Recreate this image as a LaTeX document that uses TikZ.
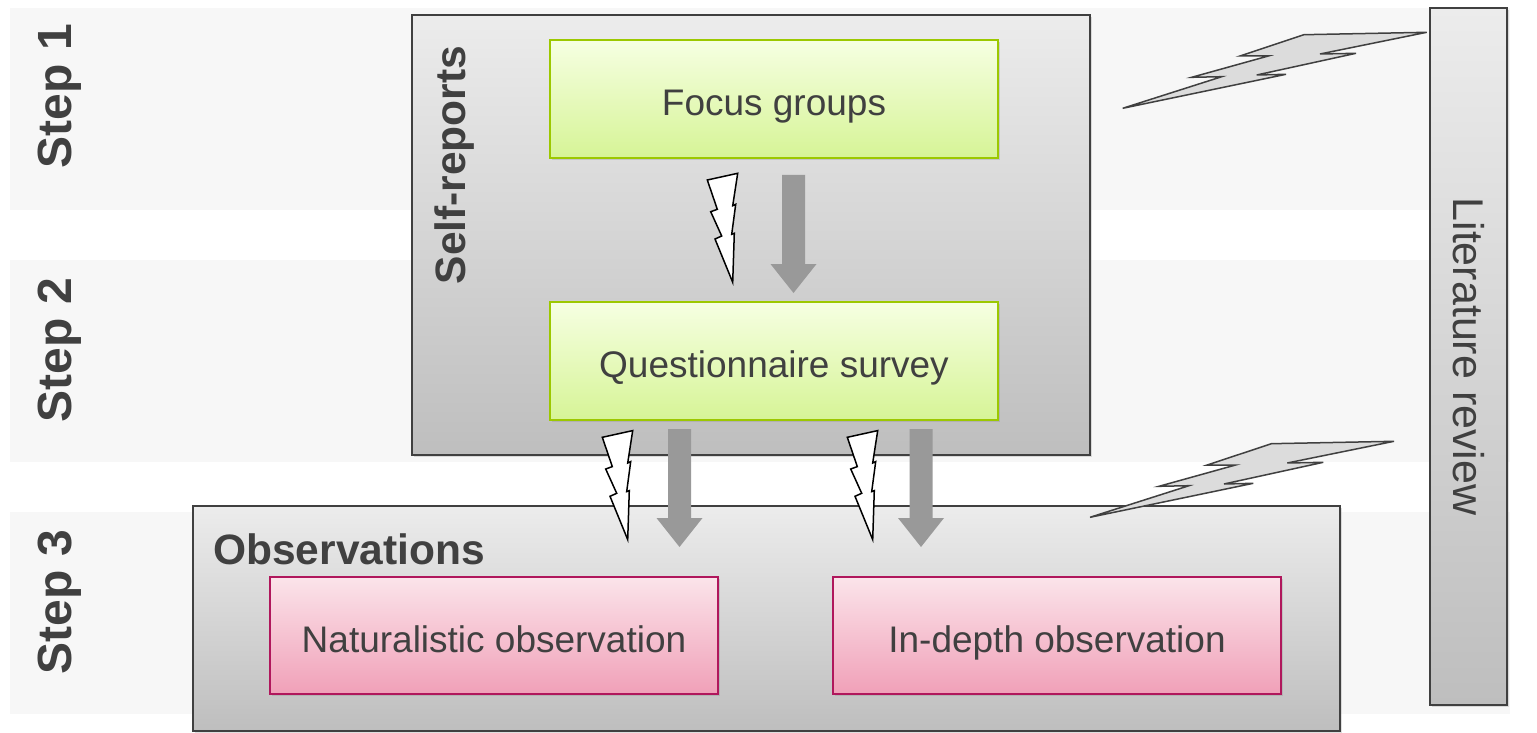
\documentclass[tikz,border=0pt]{standalone}
\usepackage{fontspec}
\setmainfont{Liberation Sans}
\usetikzlibrary{shadows,calc}
\definecolor{txt}{HTML}{404040}
\definecolor{band}{HTML}{F7F7F7}
\definecolor{edge}{HTML}{404040}
\definecolor{graytop}{HTML}{ECECEC}
\definecolor{graybot}{HTML}{BEBEBE}
\definecolor{greentop}{HTML}{F6FFE2}
\definecolor{greenbot}{HTML}{D6F496}
\definecolor{greenedge}{HTML}{9CC800}
\definecolor{pinktop}{HTML}{FBE4EA}
\definecolor{pinkbot}{HTML}{F0A0B8}
\definecolor{pinkedge}{HTML}{B0175C}
\definecolor{arrowgray}{HTML}{999999}
\definecolor{boltgray}{HTML}{DCDCDC}
\tikzset{
  bandbox/.style={fill=band, draw=none},
  graybox/.style={draw=edge, line width=1.6pt, top color=graytop, bottom color=graybot,
    drop shadow={shadow xshift=2pt, shadow yshift=-2pt, opacity=0.25}, inner sep=0pt},
  innertext/.style={text=txt, font=\fontsize{37}{42}\selectfont, text height=33pt, text depth=0pt},
  greenbox/.style={draw=greenedge, line width=1.6pt, top color=greentop, bottom color=greenbot,
    drop shadow={shadow xshift=2pt, shadow yshift=-2pt, opacity=0.25},
    minimum width=448pt, minimum height=118pt, innertext},
  pinkbox/.style={draw=pinkedge, line width=1.6pt, top color=pinktop, bottom color=pinkbot,
    drop shadow={shadow xshift=2pt, shadow yshift=-2pt, opacity=0.25},
    minimum width=448pt, minimum height=117pt, innertext},
  steplabel/.style={rotate=90, text=txt, font=\bfseries\fontsize{48}{52}\selectfont, inner sep=0pt},
  grouplabel/.style={text=txt, font=\bfseries\fontsize{42.5}{48}\selectfont, inner sep=0pt},
  blockarrow/.style={fill=arrowgray, draw=none},
  wbolt/.style={fill=white, draw=black, line width=1.5pt, line join=miter},
  gbolt/.style={fill=boltgray, draw=edge, line width=1.5pt, line join=miter},
}
\newcommand\myblockarrow[3]{%
  \fill[blockarrow] (#1-11.5,#2) -- (#1+11.5,#2) -- (#1+11.5,#3-29) -- (#1+23,#3-29)
    -- (#1,#3) -- (#1-23,#3-29) -- (#1-11.5,#3-29) -- cycle;}
\newcommand\mywbolt[2]{%
  \draw[wbolt, shift={(#1,#2)}] (0,0) -- (30.4,-6.7) -- (25.4,25.7) -- (28.4,24.3)
    -- (24.4,54.3) -- (27,53.3) -- (25.4,102.3) -- (7.7,59) -- (14.4,56)
    -- (3.4,31.7) -- (10,29.3) -- cycle;}
\newcommand\mygbolt[2]{%
  \draw[gbolt, shift={(#1,#2)}] (0,0) -- (163.3,-34) -- (134,-33.3) -- (233.3,-55)
    -- (197.3,-54.3) -- (304,-76) -- (181.3,-73.6) -- (117.3,-52.3) -- (145.6,-52.3)
    -- (69,-31) -- (99,-31.6) -- cycle;}
\begin{document}
\begin{tikzpicture}[x=1pt,y=-1pt]
\useasboundingbox (0,0) rectangle (1537,733);
% bands
\fill[bandbox] (10,8) rectangle (1510,210);
\fill[bandbox] (10,260) rectangle (1510,462);
\fill[bandbox] (10,512) rectangle (1510,714);
\node[steplabel] (s1) at (60,96) {Step 1};
\node[steplabel] (s2) at (60,350) {Step 2};
\node[steplabel] (s3) at (60,602) {Step 3};
% group boxes
\node[graybox, minimum width=678pt, minimum height=440pt] (self) at (751,235) {};
\node[graybox, minimum width=1147pt, minimum height=225pt] (obs) at (766.5,618.5) {};
\node[graybox, minimum width=77pt, minimum height=697pt] (lit) at (1468.5,356.5) {};
\node[rotate=-90, text=txt, font=\fontsize{43}{48}\selectfont] (littext) at (lit.center) {Literature review};
\node[grouplabel, rotate=90] (selftext) at (455,165) {Self-reports};
\node[grouplabel, anchor=west] (obstext) at (213,549) {Observations};
% inner boxes
\node[greenbox] (focus) at (774,99) {Focus groups};
\node[greenbox] (quest) at (774,361) {Questionnaire survey};
\node[pinkbox] (nat) at (494,635.5) {Naturalistic observation};
\node[pinkbox] (indepth) at (1057,635.5) {In-depth observation};
% block arrows
\myblockarrow{793.5}{175}{293}
\myblockarrow{679.5}{429}{547}
\myblockarrow{921}{429}{547}
% white bolts
\mywbolt{707.3}{180}
\mywbolt{602.3}{437.3}
\mywbolt{847.3}{437.3}
% gray bolts
\mygbolt{1122.7}{108.3}
\mygbolt{1090}{517.3}
\end{tikzpicture}
\end{document}
